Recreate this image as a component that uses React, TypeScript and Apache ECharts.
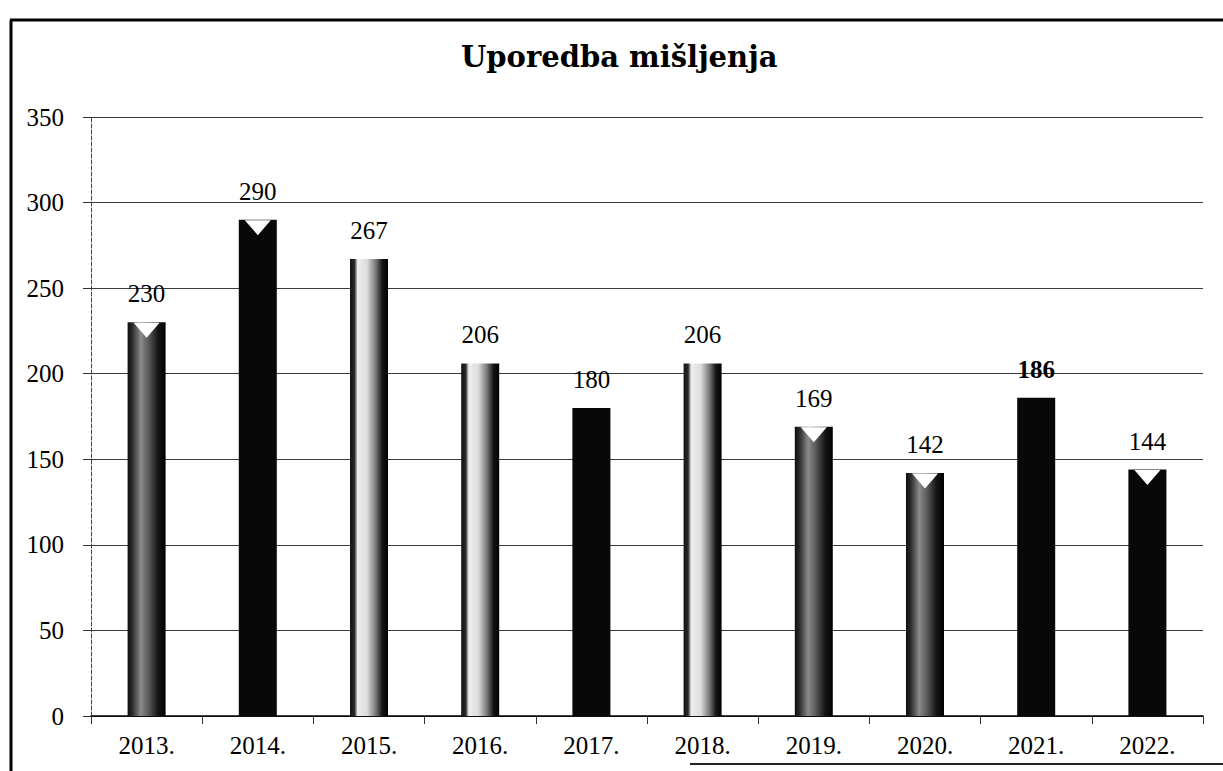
import React, { useEffect, useRef } from "react";
import * as echarts from "echarts";

const titleText = "Uporedba mišljenja";
const categories = ["2013.", "2014.", "2015.", "2016.", "2017.", "2018.", "2019.", "2020.", "2021.", "2022."];
const values = [230, 290, 267, 206, 180, 206, 169, 142, 186, 144];
// shading style per bar: "grey" = dark with grey grain, "dark" = black, "light" = light left side
const shading = ["grey", "dark", "light", "light", "dark", "light", "grey", "grey", "dark", "dark"];
// bars with a small white notch on top
const notched = ["2013.", "2014.", "2019.", "2020.", "2022."];
const yMin = 0;
const yMax = 350;
const yInterval = 50;

const serif = "'Liberation Serif', 'DejaVu Serif', serif";

function fillFor(kind: string) {
  if (kind === "dark") return "#080808";
  if (kind === "grey")
    return new echarts.graphic.LinearGradient(0, 0, 1, 0, [
      { offset: 0, color: "#0c0c0c" },
      { offset: 0.12, color: "#2a2a2a" },
      { offset: 0.35, color: "#8a8a8a" },
      { offset: 0.55, color: "#5a5a5a" },
      { offset: 0.8, color: "#151515" },
      { offset: 1, color: "#000" },
    ]);
  return new echarts.graphic.LinearGradient(0, 0, 1, 0, [
    { offset: 0, color: "#111" },
    { offset: 0.12, color: "#2a2a2a" },
    { offset: 0.2, color: "#eeeeee" },
    { offset: 0.45, color: "#dcdcdc" },
    { offset: 0.68, color: "#777" },
    { offset: 0.85, color: "#151515" },
    { offset: 1, color: "#000" },
  ]);
}

export default function App() {
  const ref = useRef<HTMLDivElement>(null);

  useEffect(() => {
    if (!ref.current) return;
    const chart = echarts.init(ref.current, null, { renderer: "svg" });

    const barData = values.map((v, i) => ({
      value: v,
      itemStyle: { color: fillFor(shading[i]) },
      label: categories[i] === "2021." ? { fontWeight: "bold" as const } : undefined,
    }));

    const notchPoints = notched.map((c) => {
      const idx = categories.indexOf(c);
      return {
        coord: [c, values[idx]],
        symbol: "triangle",
        symbolRotate: 180,
        symbolSize: [26, 15],
        symbolOffset: [0, 8],
      };
    });

    chart.setOption({
      animation: false,
      backgroundColor: "#ffffff",
      title: {
        text: titleText,
        left: 456,
        top: 37,
        textStyle: { fontFamily: "'DejaVu Serif', serif", fontSize: 29, fontWeight: "bold", color: "#000" },
      },
      grid: { left: 91, right: 20, top: 117, bottom: 55, containLabel: false },
      xAxis: {
        type: "category",
        data: categories,
        axisLine: { show: true, lineStyle: { color: "#000", width: 1.5 } },
        axisTick: { show: true, length: 8, alignWithLabel: false, lineStyle: { color: "#333" } },
        axisLabel: { margin: 17, fontFamily: serif, fontSize: 25, color: "#000" },
      },
      yAxis: {
        type: "value",
        min: yMin,
        max: yMax,
        interval: yInterval,
        axisLine: { show: true, lineStyle: { color: "#444", type: "dashed", width: 1 } },
        axisTick: { show: true, length: 8, lineStyle: { color: "#333" } },
        axisLabel: { margin: 27, fontFamily: serif, fontSize: 25, color: "#000" },
        splitLine: { show: true, lineStyle: { color: "#3a3a3a", width: 1 } },
      },
      series: [
        {
          type: "bar",
          data: barData,
          barWidth: 38,
          label: {
            show: true,
            position: "top",
            distance: 16,
            fontFamily: serif,
            fontSize: 25,
            color: "#000",
          },
          markPoint: {
            silent: true,
            label: { show: false },
            itemStyle: { color: "#ffffff" },
            data: notchPoints,
          },
        },
      ],
      graphic: [
        { type: "line", shape: { x1: 10, y1: 20, x2: 1223, y2: 20 }, style: { stroke: "#000", lineWidth: 3 } },
        { type: "line", shape: { x1: 11, y1: 20, x2: 11, y2: 771 }, style: { stroke: "#000", lineWidth: 3 } },
        { type: "line", shape: { x1: 690, y1: 764, x2: 1223, y2: 764 }, style: { stroke: "#222", lineWidth: 2 } },
      ],
    });

    return () => chart.dispose();
  }, []);

  return (
    <div
      ref={ref}
      style={{ position: "fixed", left: 0, top: 0, width: 1223, height: 771, background: "#fff" }}
    />
  );
}
